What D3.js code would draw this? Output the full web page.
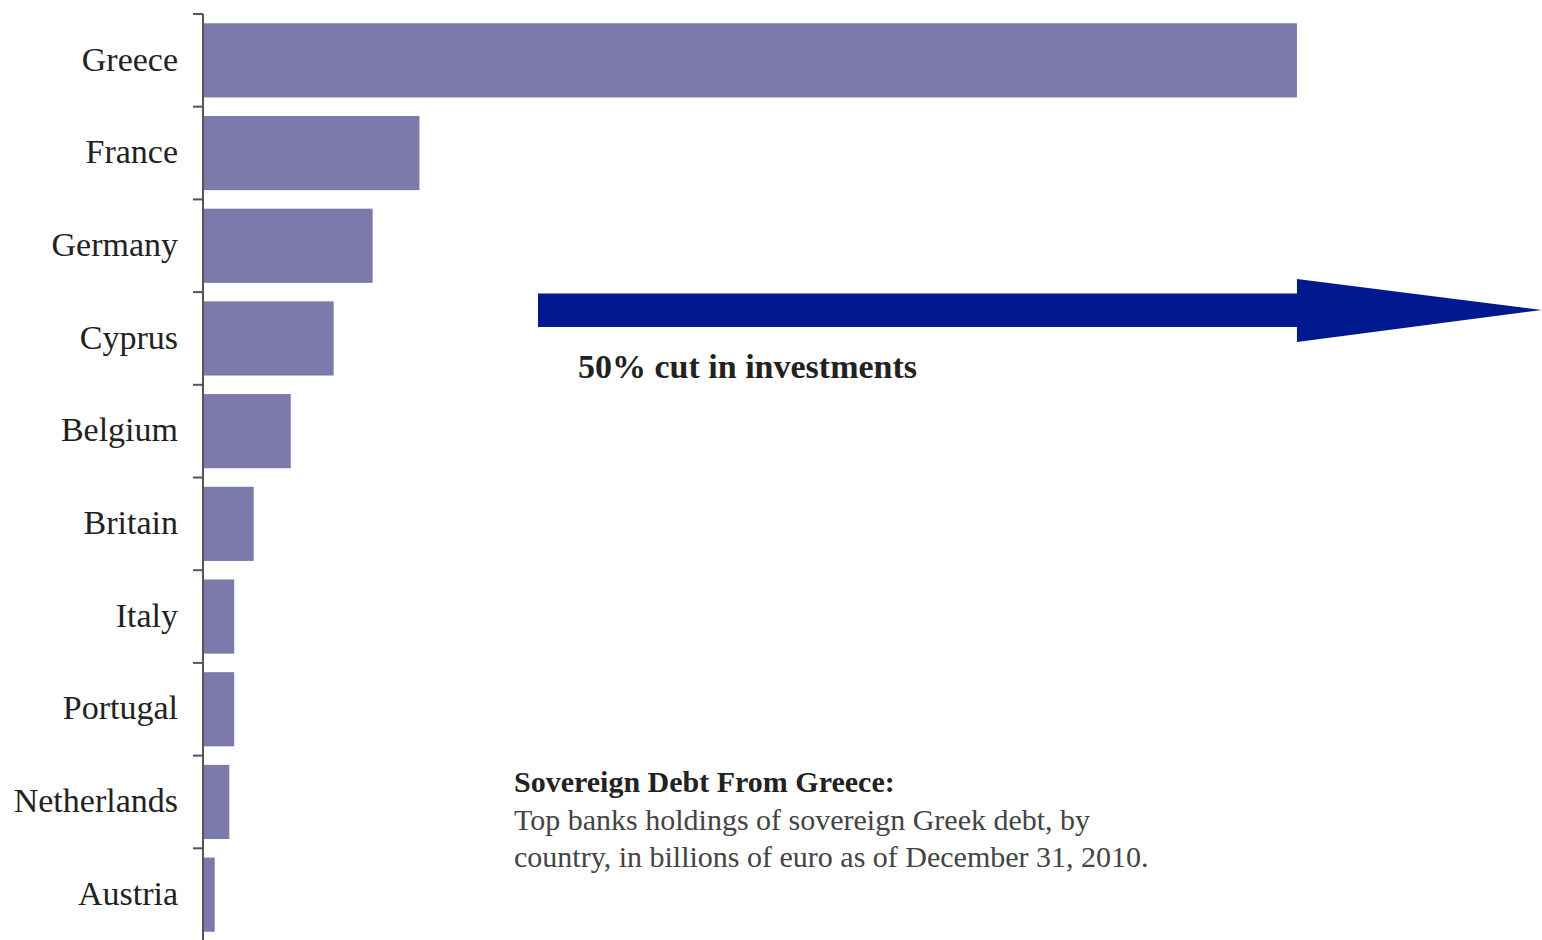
<!DOCTYPE html>
<html>
<head>
<meta charset="utf-8">
<script src="https://cdn.jsdelivr.net/npm/d3@7"></script>
<style>
  html, body { margin: 0; padding: 0; background: #fff; }
  svg { display: block; }
  text { font-family: "Liberation Serif", "DejaVu Serif", serif; }
</style>
</head>
<body>
<svg id="chart" width="1542" height="940"></svg>
<script>
// Greek sovereign debt held by top banks, by country (billions of euro, 31 Dec 2010)
const countries = ["Greece", "France", "Germany", "Cyprus", "Belgium", "Britain", "Italy", "Portugal", "Netherlands", "Austria"];
const holdings = [56.1, 11.1, 8.7, 6.7, 4.5, 2.6, 1.6, 1.6, 1.35, 0.6];

const arrowLabel = "50% cut in investments";
const captionTitle = "Sovereign Debt From Greece:";
const captionLines = [
  "Top banks holdings of sovereign Greek debt, by",
  "country, in billions of euro as of December 31, 2010."
];

const data = countries.map((c, i) => ({ country: c, value: holdings[i] }));

const svg = d3.select("#chart");
const axisX = 203;

const x = d3.scaleLinear().domain([0, 60]).range([axisX, axisX + 1170]);
const y = d3.scaleBand()
  .domain(countries)
  .range([14, 941])
  .paddingInner(0.2)
  .paddingOuter(0.1);

// bars
svg.append("g")
  .selectAll("rect")
  .data(data)
  .join("rect")
  .attr("x", x(0))
  .attr("y", d => y(d.country))
  .attr("width", d => x(d.value) - x(0))
  .attr("height", y.bandwidth())
  .attr("fill", "#7b7aaa");

// category axis with ticks on the band boundaries
const axis = svg.append("g").attr("stroke", "#555").attr("stroke-width", 2);
const step = y.step();
const half = step * y.paddingInner() / 2;
const bounds = countries.map(c => y(c) - half).concat([y(countries[countries.length - 1]) + y.bandwidth() + half]);
axis.append("line")
  .attr("x1", axisX).attr("x2", axisX)
  .attr("y1", bounds[0]).attr("y2", bounds[bounds.length - 1]);
axis.selectAll("line.tick")
  .data(bounds)
  .join("line")
  .attr("class", "tick")
  .attr("x1", axisX - 10).attr("x2", axisX)
  .attr("y1", d => d).attr("y2", d => d);

svg.append("g")
  .selectAll("text")
  .data(data)
  .join("text")
  .attr("x", 178)
  .attr("y", d => y(d.country) + y.bandwidth() / 2)
  .attr("dy", "0.3em")
  .attr("text-anchor", "end")
  .attr("font-size", 34)
  .attr("fill", "#222")
  .text(d => d.country);

// arrow: shaft runs up to the end of the largest bar, head continues past it
const headBase = x(d3.max(holdings));
const arrowY = 310;
const arrow = d3.path();
arrow.moveTo(538, arrowY - 16.5);
arrow.lineTo(headBase, arrowY - 16.5);
arrow.lineTo(headBase, arrowY - 31);
arrow.lineTo(1542, arrowY);
arrow.lineTo(headBase, arrowY + 32);
arrow.lineTo(headBase, arrowY + 17);
arrow.lineTo(538, arrowY + 17);
arrow.closePath();
svg.append("path").attr("d", arrow.toString()).attr("fill", "#00198f");

svg.append("text")
  .attr("x", 578).attr("y", 378)
  .attr("font-size", 34).attr("font-weight", "bold")
  .attr("fill", "#222")
  .text(arrowLabel);

// caption
const cap = svg.append("g").attr("transform", "translate(514,0)");
cap.append("text")
  .attr("y", 792)
  .attr("font-size", 30).attr("font-weight", "bold")
  .attr("fill", "#222")
  .text(captionTitle);
cap.selectAll("text.line")
  .data(captionLines)
  .join("text")
  .attr("class", "line")
  .attr("y", (d, i) => 830 + i * 37)
  .attr("font-size", 30)
  .attr("fill", "#444")
  .text(d => d);
</script>
</body>
</html>
